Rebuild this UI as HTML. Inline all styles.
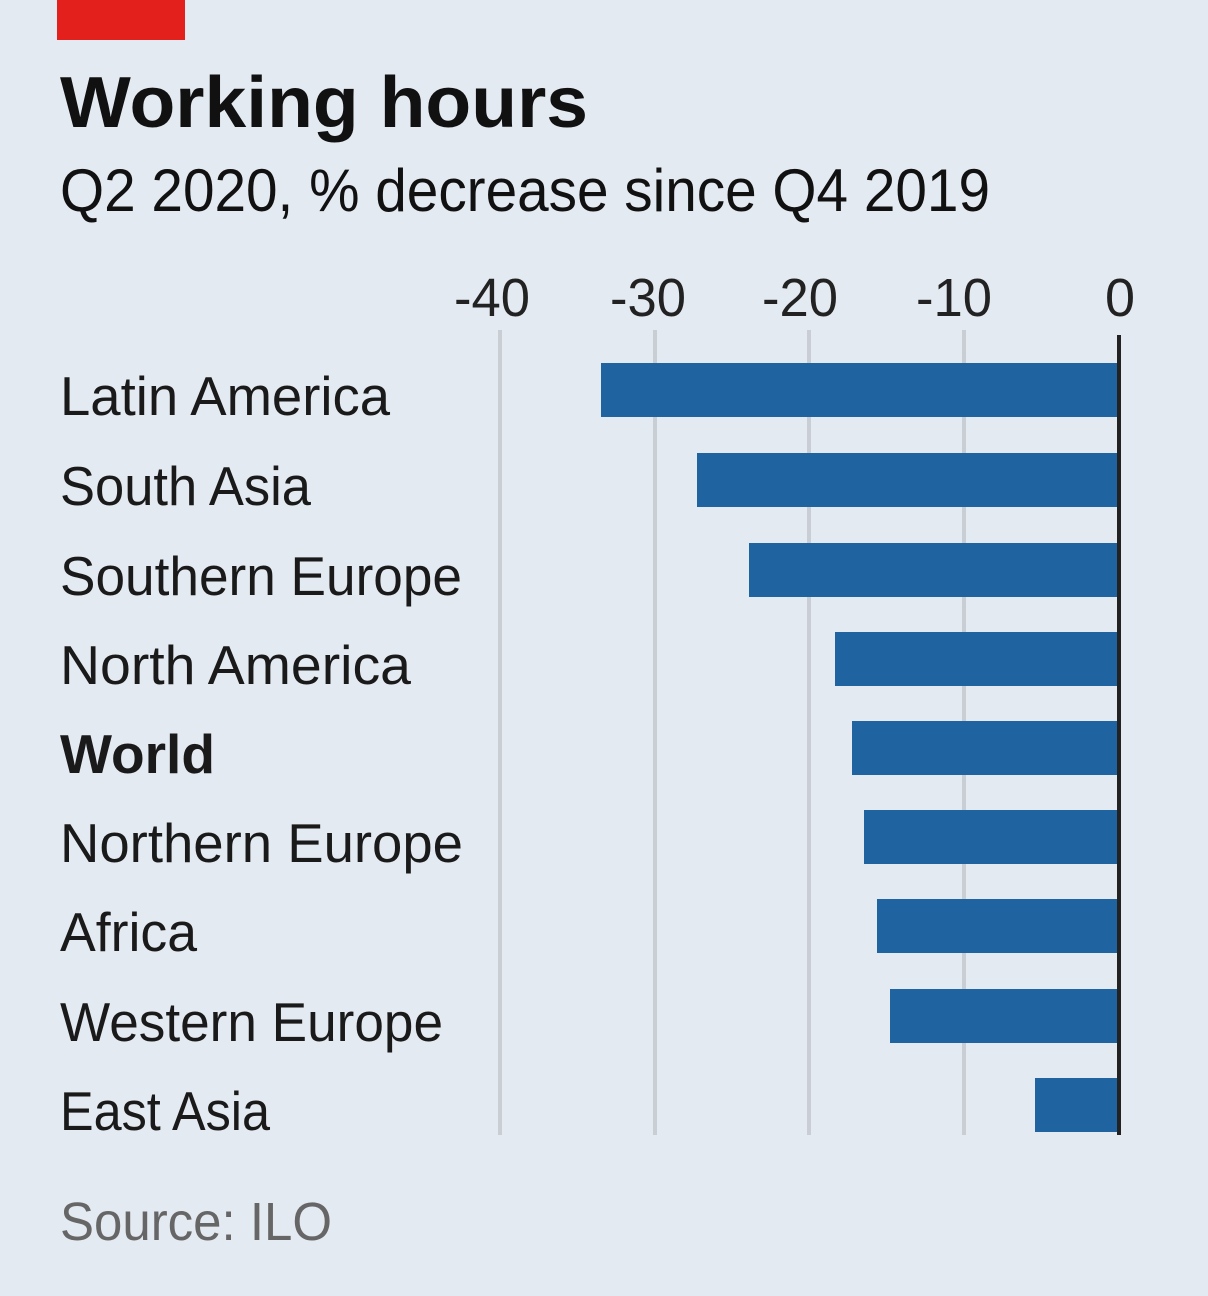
<!DOCTYPE html>
<html><head><meta charset="utf-8"><style>
html,body{margin:0;padding:0;background:#e4eaf1;}
svg{display:block}
text{font-family:"Liberation Sans",sans-serif;}
</style></head><body>
<svg width="1208" height="1296" viewBox="0 0 1208 1296">
<rect width="1208" height="1296" fill="#e4eaf1"/>
<rect x="57" y="0" width="128" height="40" fill="#e3201b"/>
<text x="60" y="127" font-size="72" font-weight="bold" fill="#111" textLength="528" lengthAdjust="spacingAndGlyphs">Working hours</text>
<text x="60" y="211" font-size="60" fill="#111" textLength="930" lengthAdjust="spacingAndGlyphs">Q2 2020, % decrease since Q4 2019</text>
<g fill="#222" font-size="54" text-anchor="middle">
<text x="492" y="316" textLength="76" lengthAdjust="spacingAndGlyphs">-40</text><text x="648" y="316" textLength="76" lengthAdjust="spacingAndGlyphs">-30</text><text x="800" y="316" textLength="76" lengthAdjust="spacingAndGlyphs">-20</text><text x="954" y="316" textLength="76" lengthAdjust="spacingAndGlyphs">-10</text><text x="1120" y="316">0</text>
</g>
<g stroke="#c9ced4" stroke-width="4">
<line x1="500" y1="330" x2="500" y2="1135"/><line x1="655" y1="330" x2="655" y2="1135"/><line x1="809" y1="330" x2="809" y2="1135"/><line x1="964" y1="330" x2="964" y2="1135"/>
</g>
<g fill="#1f64a0">
<rect x="601" y="363" width="517" height="54"/>
<rect x="697" y="453" width="421" height="54"/>
<rect x="749" y="543" width="369" height="54"/>
<rect x="835" y="632" width="283" height="54"/>
<rect x="852" y="721" width="266" height="54"/>
<rect x="864" y="810" width="254" height="54"/>
<rect x="877" y="899" width="241" height="54"/>
<rect x="890" y="989" width="228" height="54"/>
<rect x="1035" y="1078" width="83" height="54"/>
</g>
<line x1="1119" y1="335" x2="1119" y2="1135" stroke="#222" stroke-width="4"/>
<g fill="#1a1a1a" font-size="55">
<text x="60" y="415" textLength="330" lengthAdjust="spacingAndGlyphs">Latin America</text>
<text x="60" y="505" textLength="251" lengthAdjust="spacingAndGlyphs">South Asia</text>
<text x="60" y="595" textLength="402" lengthAdjust="spacingAndGlyphs">Southern Europe</text>
<text x="60" y="684" textLength="351" lengthAdjust="spacingAndGlyphs">North America</text>
<text x="60" y="773" font-weight="bold" textLength="155" lengthAdjust="spacingAndGlyphs">World</text>
<text x="60" y="862" textLength="403" lengthAdjust="spacingAndGlyphs">Northern Europe</text>
<text x="60" y="951" textLength="137" lengthAdjust="spacingAndGlyphs">Africa</text>
<text x="60" y="1041" textLength="383" lengthAdjust="spacingAndGlyphs">Western Europe</text>
<text x="60" y="1130" textLength="210" lengthAdjust="spacingAndGlyphs">East Asia</text>
</g>
<text x="60" y="1240" font-size="54" fill="#666" textLength="272" lengthAdjust="spacingAndGlyphs">Source: ILO</text>
</svg>
</body></html>
